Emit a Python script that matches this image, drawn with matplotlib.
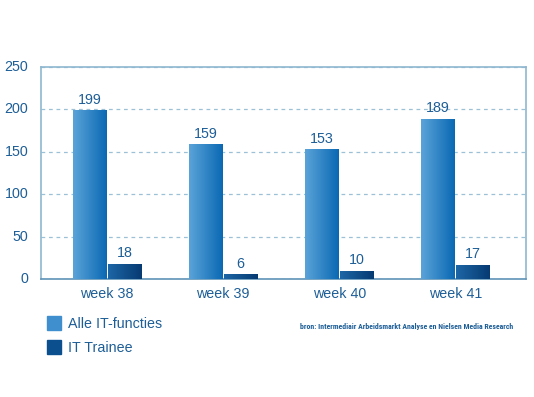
import matplotlib
matplotlib.use("Agg")
import matplotlib.pyplot as plt
import matplotlib.patches as mpatches
import numpy as np
from matplotlib.colors import LinearSegmentedColormap

weeks = ["week 38", "week 39", "week 40", "week 41"]
alle_it = [199, 159, 153, 189]
it_trainee = [18, 6, 10, 17]
series_names = ["Alle IT-functies", "IT Trainee"]
source_text = "bron: Intermediair Arbeidsmarkt Analyse en Nielsen Media Research"

text_col = "#1d5e97"
frame_col = "#8fb7cf"
grid_col = "#9cc0d6"
light_cmap = LinearSegmentedColormap.from_list("light", ["#5aa3d9", "#0b69b3"])
dark_cmap = LinearSegmentedColormap.from_list("dark", ["#1d66a6", "#063a72"])

plt.rcParams['font.family'] = ['Liberation Sans', 'DejaVu Sans']

fig = plt.figure(figsize=(5.34, 3.97), dpi=100)
ax = fig.add_axes([41 / 534, 1 - 279 / 397, 485 / 534, 212 / 397])

x = np.arange(len(weeks))
w = 0.285
gap = 0.015
gradient = np.linspace(0, 1, 64).reshape(1, -1)


def grad_bars(xs, vals, cmap):
    bars = ax.bar(xs, vals, width=w, color="none", edgecolor="none", zorder=3)
    for b in bars:
        x0, y0 = b.get_x(), b.get_y()
        im = ax.imshow(gradient, cmap=cmap, aspect="auto", zorder=3,
                       extent=[x0, x0 + b.get_width(), y0, y0 + b.get_height()])
        im.set_clip_path(b)
    return bars


b1 = grad_bars(x - w / 2 - gap / 2, alle_it, light_cmap)
b2 = grad_bars(x + w / 2 + gap / 2, it_trainee, dark_cmap)

for bars, vals in ((b1, alle_it), (b2, it_trainee)):
    for b, v in zip(bars, vals):
        ax.text(b.get_x() + b.get_width() / 2, v + 4, str(v), ha="center",
                va="bottom", color=text_col, fontsize=10.3, zorder=4)

ax.set_xlim(-0.57, 3.61)
ax.set_ylim(0, 250)
ax.set_yticks([0, 50, 100, 150, 200, 250])
ax.set_xticks(x)
ax.set_xticklabels(weeks)
ax.tick_params(length=0, colors=text_col, labelsize=10.3)
ax.tick_params(axis="y", pad=9)
ax.tick_params(axis="x", pad=6)
for lab in ax.get_yticklabels():
    lab.set_verticalalignment("center")

ax.yaxis.grid(True, linestyle=(0, (3, 3)), color=grid_col, linewidth=0.9, zorder=0)
for s in ax.spines.values():
    s.set_color(frame_col)
    s.set_linewidth(1.2)
ax.spines["bottom"].set_color("#5f93b8")

# legend
fig.patches.append(mpatches.Rectangle((47 / 534, 1 - 330 / 397), 14 / 534, 14 / 397,
                                      transform=fig.transFigure, color="#3f8fce"))
fig.patches.append(mpatches.Rectangle((47 / 534, 1 - 354 / 397), 14 / 534, 14 / 397,
                                      transform=fig.transFigure, color="#0c4f8f"))
fig.text(68 / 534, 1 - 324 / 397, series_names[0], color=text_col, fontsize=10.3, va="center")
fig.text(68 / 534, 1 - 348 / 397, series_names[1], color=text_col, fontsize=10.3, va="center")
fig.text(513 / 534, 1 - 327 / 397, source_text, color=text_col, fontsize=5.6,
         fontweight="bold", ha="right", va="center",
         family=['Roboto Condensed', 'Liberation Sans Narrow', 'Liberation Sans'])

fig.savefig("out.png", dpi=100)
